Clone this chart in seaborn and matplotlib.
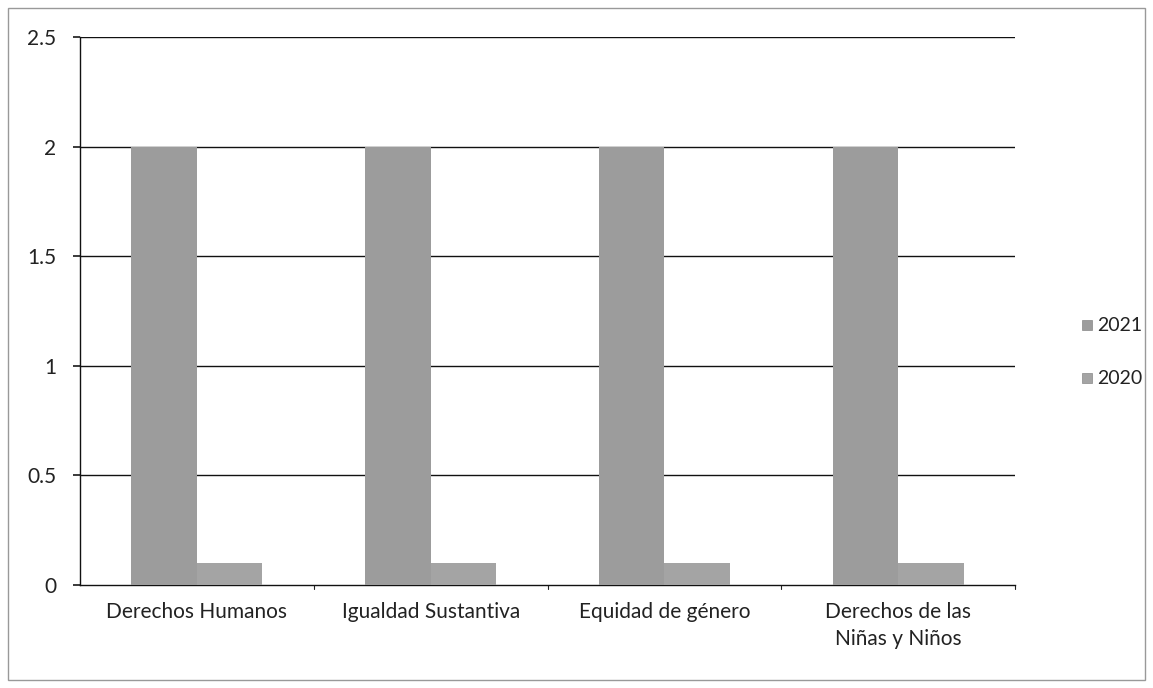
import matplotlib
matplotlib.use("Agg")
import matplotlib.pyplot as plt
import seaborn as sns
import pandas as pd
from matplotlib.patches import Rectangle

categories = ["Derechos Humanos", "Igualdad Sustantiva", "Equidad de género", "Derechos de las\nNiñas y Niños"]
series_names = ["2021", "2020"]
values_2021 = [2, 2, 2, 2]
values_2020 = [0.1, 0.1, 0.1, 0.1]
yticks = [0, 0.5, 1, 1.5, 2, 2.5]
ytick_labels = ["0", "0.5", "1", "1.5", "2", "2.5"]

df = pd.DataFrame({
    "cat": categories * 2,
    "serie": [series_names[0]] * 4 + [series_names[1]] * 4,
    "val": values_2021 + values_2020,
})

sns.set_theme(style="white")
plt.rcParams["font.family"] = ["Lato", "DejaVu Sans"]

fig = plt.figure(figsize=(11.53, 6.88), dpi=100)
ax = fig.add_axes([80 / 1153, 1 - 585 / 688, (1015 - 80) / 1153, (585 - 37) / 688])

palette = {"2021": "#9c9c9c", "2020": "#a4a4a4"}
sns.barplot(data=df, x="cat", y="val", hue="serie", hue_order=series_names,
            palette=palette, width=0.56, ax=ax, saturation=1, zorder=3,
            edgecolor="none", legend=False)

ax.set_ylim(0, 2.5)
ax.set_xlim(-0.5, 3.5)
ax.set_yticks(yticks)
ax.set_yticklabels(ytick_labels, fontsize=15, color="#222222")
ax.set_xticks(range(len(categories)))
ax.set_xticklabels(categories, fontsize=15, color="#222222", linespacing=1.45)
ax.tick_params(axis="x", length=0, pad=12)
ax.tick_params(axis="y", length=5, direction="out", left=True, color="#222222", pad=12)
ax.set_xlabel("")
ax.set_ylabel("")
ax.grid(False)
for y in yticks[1:]:
    ax.axhline(y, color="#111111", linewidth=1.0, zorder=1)
for x in [0.5, 1.5, 2.5, 3.5]:
    ax.plot([x, x], [0, -0.02], color="#222222", lw=0.8, clip_on=False)
for s in ["top", "right"]:
    ax.spines[s].set_visible(False)
ax.spines["left"].set_color("#111111")
ax.spines["bottom"].set_color("#111111")
ax.spines["left"].set_linewidth(1.0)
ax.spines["bottom"].set_linewidth(1.0)

# legend
for i, name in enumerate(series_names):
    yy = 1 - (325 + 53 * i) / 688
    fig.patches.append(Rectangle((1082 / 1153, yy - 5 / 688), 10 / 1153, 10 / 688,
                                 transform=fig.transFigure, facecolor=palette[name],
                                 edgecolor="#888888", lw=0.5))
    fig.text(1097 / 1153, yy, name, fontsize=14, va="center", ha="left", color="#222222")

# outer frame
fig.patches.append(Rectangle((8 / 1153, 8 / 688), 1137 / 1153, 672 / 688,
                             transform=fig.transFigure, fill=False,
                             edgecolor="#999999", lw=1.0))

fig.savefig("out.png", dpi=100, facecolor="white")
